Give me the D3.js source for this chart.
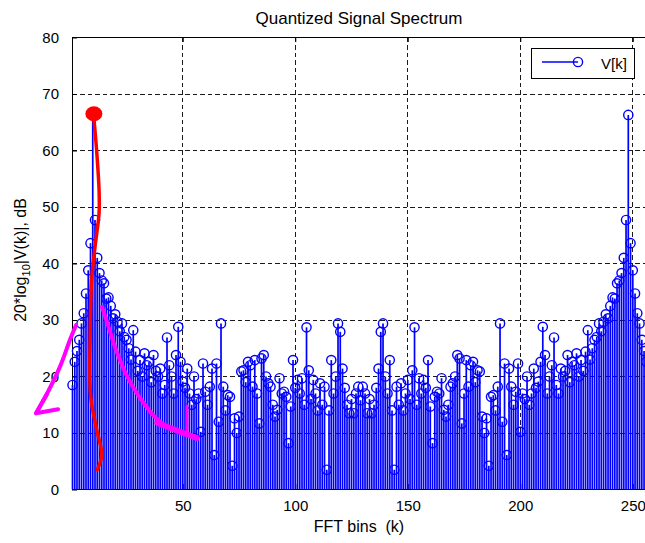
<!DOCTYPE html>
<html>
<head>
<meta charset="utf-8">
<script src="https://cdn.jsdelivr.net/npm/d3@7/dist/d3.min.js"></script>
<style>
  body { margin: 0; background: #fff; }
  svg { display: block; font-family: "Liberation Sans", Arial, Helvetica, sans-serif; }
</style>
</head>
<body>
<svg id="chart"></svg>
<script>
const width = 645;
const height = 543;

// FFT bins k = 1..256
const bins = d3.range(1, 257);

// 20*log10|V(k)| in dB
// k = 1..129
const leftHalfDb = [
  18.5, 22.6, 24.5, 26.5, 29.4, 31.2, 34.7, 38.8, 43.6, 66.3,
  47.7, 41.0, 38.3, 37.0, 36.5, 33.8, 34.0, 32.5, 30.3, 31.0,
  29.7, 28.0, 29.4, 27.0, 26.5, 25.0, 23.0, 28.2, 24.4, 21.0,
  22.9, 20.0, 24.1, 22.0, 22.6, 19.0, 23.8, 21.0, 20.0, 21.4,
  17.0, 18.5, 26.9, 22.0, 20.0, 17.0, 23.8, 28.8, 22.6, 19.1,
  18.0, 21.4, 17.0, 15.0, 20.0, 16.0, 17.0, 10.2, 22.3, 17.3,
  15.0, 18.2, 21.4, 6.1, 22.3, 12.0, 29.4, 18.2, 14.0, 16.7,
  16.4, 4.2, 12.6, 10.0, 12.9, 20.9, 21.1, 19.0, 22.6, 22.0,
  18.2, 22.9, 17.0, 11.7, 23.2, 23.8, 20.0, 18.8, 18.2, 15.0,
  12.9, 14.1, 19.7, 17.0, 17.3, 16.4, 8.2, 14.7, 22.9, 18.0,
  19.4, 17.0, 19.7, 15.0, 28.7, 21.1, 16.0, 19.4, 17.0, 14.0,
  18.8, 15.0, 18.2, 3.5, 14.0, 22.9, 17.0, 20.0, 29.4, 27.9,
  21.4, 18.0, 15.0, 13.5, 16.0, 13.5, 17.0, 18.2, 15.8
];
// k = 130..256
const rightHalfDb = [
  18.2, 17.0, 13.5, 16.0, 13.5, 15.0, 18.0, 21.4,
  27.9, 29.4, 20.0, 17.0, 22.9, 14.0, 3.5, 18.2, 15.0, 18.8,
  14.0, 17.0, 19.4, 16.0, 21.1, 28.7, 15.0, 19.7, 17.0, 19.4,
  18.0, 22.9, 14.7, 8.2, 16.4, 17.3, 17.0, 19.7, 14.1, 12.9,
  15.0, 18.2, 18.8, 20.0, 23.8, 23.2, 11.7, 17.0, 22.9, 18.2,
  22.0, 22.6, 19.0, 21.1, 20.9, 12.9, 10.0, 12.6, 4.2, 16.4,
  16.7, 14.0, 18.2, 29.4, 12.0, 22.3, 6.1, 21.4, 18.2, 15.0,
  17.3, 22.3, 10.2, 17.0, 16.0, 20.0, 15.0, 17.0, 21.4, 18.0,
  19.1, 22.6, 28.8, 23.8, 17.0, 20.0, 22.0, 26.9, 18.5, 17.0,
  21.4, 20.0, 21.0, 23.8, 19.0, 22.6, 22.0, 24.1, 20.0, 22.9,
  21.0, 24.4, 28.2, 23.0, 25.0, 26.5, 27.0, 29.4, 28.0, 29.7,
  31.0, 30.3, 32.5, 34.0, 33.8, 36.5, 37.0, 38.3, 41.0, 47.7,
  66.3, 43.6, 38.8, 34.7, 31.2, 29.4, 26.5, 24.5, 22.6
];
const magnitudeDb = leftHalfDb.concat(rightHalfDb);

const xTicks = [50, 100, 150, 200, 250];
const yTicks = [0, 10, 20, 30, 40, 50, 60, 70, 80];
const xGrid = [50, 100, 150, 200, 250];
const yGrid = [10, 20, 30, 40, 50, 60, 70];

// hand-drawn marks on top of the chart, in chart units [k, dB]
const redDot = [10.5, 66.5];
const redStroke = [[10.3, 66.6], [11.7, 60.1], [12.8, 53.0], [12.8, 48.9], [11.0, 42.9],
  [9.5, 37.1], [8.9, 28.2], [9.1, 16.4], [11.8, 10.5], [14.0, 6.1], [12.0, 3.5]];
const magentaLeft = [[2.6, 29.1], [-0.1, 26.5], [-4.6, 21.7], [-9.9, 17.3], [-15.2, 13.5]];
const magentaLeftHead = [[-10.3, 16.9], [-15.2, 13.5], [-5.4, 14.2]];
const magentaRight = [[14.1, 32.3], [16.3, 29.7], [18.1, 27.4], [21.2, 23.8], [25.7, 19.7],
  [31.0, 16.2], [39.0, 12.3], [47.9, 10.2], [56.3, 9.3]];
const magentaRightHead = [[38.6, 11.8], [56.3, 9.1]];
const magentaRightTick = [[51.9, 14.8], [51.9, 10.0]];

const svg = d3.select('#chart')
  .attr('width', width)
  .attr('height', height);

svg.append('rect').attr('width', width).attr('height', height).attr('fill', '#fff');

const x = d3.scaleLinear().domain([1, 256]).range([72.5, 646.3]);
const y = d3.scaleLinear().domain([0, 80]).range([489.5, 37.5]);
const snap = v => Math.round(v - 0.5) + 0.5;

// grid (dashed)
const grid = svg.append('g')
  .attr('stroke', '#1a1a1a')
  .attr('stroke-width', 1)
  .attr('stroke-dasharray', '4.5,3')
  .attr('shape-rendering', 'crispEdges');
grid.selectAll('.gx').data(xGrid).enter().append('line')
  .attr('x1', d => snap(x(d))).attr('x2', d => snap(x(d)))
  .attr('y1', y(80)).attr('y2', y(0));
grid.selectAll('.gy').data(yGrid).enter().append('line')
  .attr('y1', d => y(d)).attr('y2', d => y(d))
  .attr('x1', x(1)).attr('x2', x(256));

// axes: ticks point inside
const axisLeft = svg.append('g')
  .attr('transform', `translate(${x(1) - 0.5},0)`)
  .call(d3.axisLeft(y).tickValues(yTicks).tickSize(-5).tickSizeOuter(0).tickPadding(13));
const axisBottom = svg.append('g')
  .attr('transform', `translate(0,${y(0) - 0.5})`)
  .call(d3.axisBottom(x).tickValues(xTicks).tickSize(-5).tickSizeOuter(0).tickPadding(11.5));
const axisTop = svg.append('g')
  .attr('transform', `translate(0,${y(80) - 0.5})`)
  .call(d3.axisTop(x).tickValues(xTicks).tickSize(-5).tickSizeOuter(0).tickFormat(''));
[axisLeft, axisBottom, axisTop].forEach(g => {
  g.select('.domain').remove();
  g.selectAll('line').attr('stroke', '#000');
  g.selectAll('text').attr('fill', '#000').style('font-size', '15px')
    .style('font-family', '"Liberation Sans", Arial, sans-serif');
});

// frame
svg.append('path')
  .attr('d', `M${x(256)},${y(80)}H${x(1)}V${y(0)}H${x(256)}`)
  .attr('fill', 'none').attr('stroke', '#000').attr('stroke-width', 1)
  .attr('shape-rendering', 'crispEdges');

// stems
svg.append('g').selectAll('line')
  .data(bins)
  .enter()
  .append('line')
  .attr('x1', k => x(k)).attr('x2', k => x(k))
  .attr('y1', y(0))
  .attr('y2', (k, i) => y(magnitudeDb[i]))
  .attr('stroke', '#0000ff')
  .attr('stroke-width', 1.7);

// markers
svg.append('g').selectAll('circle')
  .data(bins)
  .enter()
  .append('circle')
  .attr('cx', k => x(k))
  .attr('cy', (k, i) => y(magnitudeDb[i]))
  .attr('r', 4.6)
  .attr('fill', 'none')
  .attr('stroke', '#0000ff')
  .attr('stroke-width', 1.4);

// stem baseline
svg.append('line')
  .attr('x1', x(1)).attr('x2', x(256))
  .attr('y1', y(0)).attr('y2', y(0))
  .attr('stroke', '#000').attr('stroke-width', 1)
  .attr('shape-rendering', 'crispEdges');

// title and labels
svg.append('text')
  .attr('x', 359).attr('y', 24)
  .attr('text-anchor', 'middle')
  .style('font-size', '17px')
  .text('Quantized Signal Spectrum');

svg.append('text')
  .attr('x', 359).attr('y', 532)
  .attr('text-anchor', 'middle')
  .style('font-size', '16px')
  .style('white-space', 'pre')
  .attr('xml:space', 'preserve')
  .text('FFT bins  (k)');

const yLabel = svg.append('text')
  .attr('transform', 'translate(26,260) rotate(-90)')
  .attr('text-anchor', 'middle')
  .style('font-size', '16px');
yLabel.append('tspan').text('20*log');
yLabel.append('tspan').attr('dy', 4).style('font-size', '11px').text('10');
yLabel.append('tspan').attr('dy', -4).text('|V(k)|, dB');

// legend
const legend = svg.append('g');
legend.append('rect')
  .attr('x', 531.5).attr('y', 48.5).attr('width', 103).attr('height', 30)
  .attr('fill', '#fff').attr('stroke', '#000').attr('stroke-width', 1);
legend.append('line')
  .attr('x1', 542).attr('x2', 578).attr('y1', 62).attr('y2', 62)
  .attr('stroke', '#0000ff').attr('stroke-width', 1.5);
legend.append('circle')
  .attr('cx', 578).attr('cy', 62).attr('r', 4.6)
  .attr('fill', 'none').attr('stroke', '#0000ff').attr('stroke-width', 1.4);
legend.append('text')
  .attr('x', 601).attr('y', 69)
  .style('font-size', '15px')
  .text('V[k]');

// hand-drawn annotations
const pen = d3.line().x(d => x(d[0])).y(d => y(d[1])).curve(d3.curveCatmullRom);
const straight = d3.line().x(d => x(d[0])).y(d => y(d[1]));
const notes = svg.append('g').attr('fill', 'none')
  .attr('stroke-linecap', 'round').attr('stroke-linejoin', 'round');

notes.append('path').attr('d', pen(redStroke)).attr('stroke', '#ff0000').attr('stroke-width', 3.5);
notes.append('ellipse')
  .attr('cx', x(redDot[0])).attr('cy', y(redDot[1]))
  .attr('rx', 8.5).attr('ry', 7.5)
  .attr('fill', '#ff0000').attr('stroke', 'none');

notes.append('path').attr('d', pen(magentaLeft)).attr('stroke', '#ff00ff').attr('stroke-width', 4);
notes.append('path').attr('d', straight(magentaLeftHead)).attr('stroke', '#ff00ff').attr('stroke-width', 4);
notes.append('path').attr('d', pen(magentaRight)).attr('stroke', '#ff00ff').attr('stroke-width', 4);
notes.append('path').attr('d', straight(magentaRightHead)).attr('stroke', '#ff00ff').attr('stroke-width', 5.5);
notes.append('path').attr('d', straight(magentaRightTick)).attr('stroke', '#ff00ff').attr('stroke-width', 3);
</script>
</body>
</html>
